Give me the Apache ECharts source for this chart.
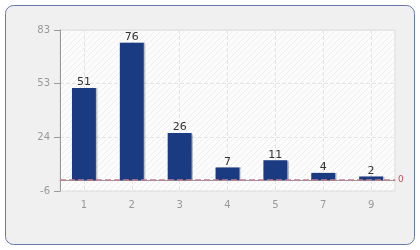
<!DOCTYPE html>
<html><head><meta charset="utf-8">
<script src="https://cdn.jsdelivr.net/npm/echarts@6/dist/echarts.min.js"></script>
<style>html,body{margin:0;padding:0;background:#fff;}#c{width:420px;height:250px;}</style>
</head><body><div id="c"></div>
<script>
const categories = ['1','2','3','4','5','7','9'];
const values = [51, 76, 26, 7, 11, 4, 2];
const yTicks = [-6, 23.667, 53.333, 83];
const yMin = -6, yMax = 83;
const refLine = 0;

const pc = document.createElement('canvas');
pc.width = 6; pc.height = 6;
const g = pc.getContext('2d');
g.fillStyle = '#fcfcfc'; g.fillRect(0,0,6,6);
g.strokeStyle = '#eeeeee'; g.lineWidth = 1;
g.beginPath(); g.moveTo(0,6); g.lineTo(6,0); g.moveTo(-1,1); g.lineTo(1,-1); g.moveTo(5,7); g.lineTo(7,5); g.stroke();

const chart = echarts.init(document.getElementById('c'), null, {renderer:'canvas'});
chart.setOption({
  animation:false,
  graphic:[{type:'rect', z:-10, shape:{x:5.5,y:5.5,width:409,height:239,r:8}, style:{fill:'#f0f0f0', stroke:'#6878a8', lineWidth:1}}],
  grid:{left:60, right:25, top:30, bottom:59, show:true, backgroundColor:{image:pc, repeat:'repeat'}, borderColor:'#dddddd', borderWidth:1},
  xAxis:{type:'category', data:categories,
    axisLine:{lineStyle:{color:'#999'}},
    axisTick:{alignWithLabel:true, length:5, lineStyle:{color:'#999'}},
    axisLabel:{color:'#999', fontFamily:'DejaVu Sans', fontSize:10, margin:9},
    splitLine:{show:true, alignWithLabel:true, lineStyle:{color:'#e4e4e4', type:'dashed'}}},
  yAxis:{type:'value', min:yMin, max:yMax,
    axisLine:{show:true, lineStyle:{color:'#999'}},
    axisTick:{show:true, length:6, lineStyle:{color:'#999'}, customValues:yTicks},
    axisLabel:{color:'#999', fontFamily:'DejaVu Sans', fontSize:10, margin:10, customValues:yTicks, formatter:v=>String(Math.round(v))},
    splitLine:{show:true, lineStyle:{color:'#e4e4e4', type:'dashed'}}},
  series:[{type:'bar', data:values, barWidth:'50%',
    itemStyle:{color:'#1a3a82', shadowColor:'rgba(0,0,0,0.25)', shadowOffsetX:1.5, shadowOffsetY:0, shadowBlur:1},
    label:{show:true, position:'top', color:'#333', fontFamily:'DejaVu Sans', fontSize:11, distance:0},
    markLine:{silent:true, symbol:['none','none'], data:[{yAxis:refLine}],
      lineStyle:{color:'#c08090', type:'dashed', width:1.5, dashOffset:0},
      label:{show:true, position:'end', color:'#c05060', fontFamily:'DejaVu Sans', fontSize:9, distance:3, formatter:'0'}}
  }]
});
</script></body></html>
